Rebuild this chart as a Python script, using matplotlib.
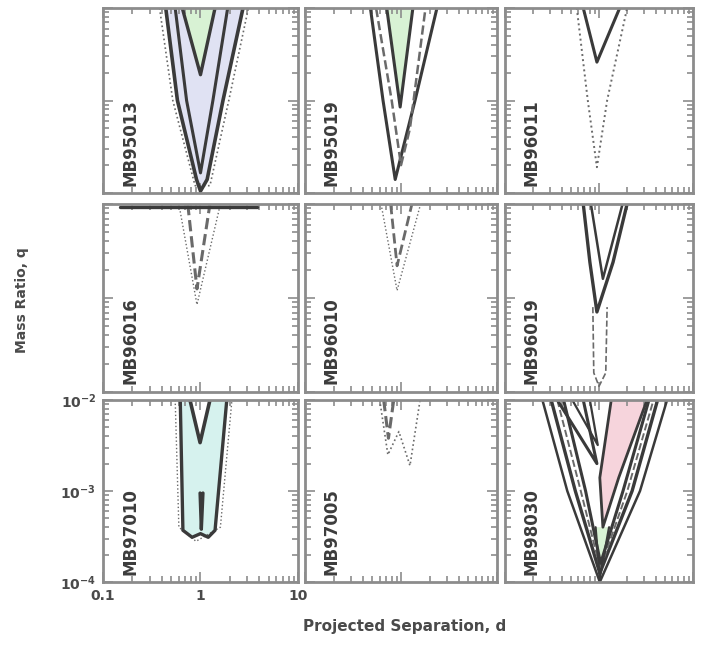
import matplotlib
matplotlib.use("Agg")
import matplotlib.pyplot as plt
from matplotlib.ticker import LogLocator, FixedLocator, FixedFormatter, NullFormatter

events = ["MB95013", "MB95019", "MB96011",
          "MB96016", "MB96010", "MB96019",
          "MB97010", "MB97005", "MB98030"]

x_ticks = [0.1, 1, 10]
x_tick_labels = ["0.1", "1", "10"]

# detection contours: separation d and mass ratio q, traced top-left -> tip -> top-right
mb95013_halo_d = [0.38, 0.52, 0.88, 1.25, 1.95, 3.10]
mb95013_halo_q = [1e-2, 1e-3, 1.2e-4, 1.2e-4, 1e-3, 1e-2]
mb95013_outer_d = [0.44, 0.58, 0.91, 1.00, 1.17, 1.70, 2.73]
mb95013_outer_q = [1e-2, 1e-3, 1.4e-4, 1.05e-4, 1.4e-4, 1e-3, 1e-2]
mb95013_inner_d = [0.55, 0.72, 1.00, 1.34, 1.90]
mb95013_inner_q = [1e-2, 1e-3, 1.65e-4, 1e-3, 1e-2]
mb95013_core_d = [0.65, 1.00, 1.41]
mb95013_core_q = [1e-2, 1.9e-3, 1e-2]

mb95019_outer_d = [0.48, 0.65, 0.87, 1.40, 2.37]
mb95019_outer_q = [1e-2, 1e-3, 1.4e-4, 1e-3, 1e-2]
mb95019_inner_d = [0.55, 0.80, 1.00, 1.24, 1.80]
mb95019_inner_q = [1e-2, 1e-3, 2.0e-4, 5e-4, 1e-2]
mb95019_core_d = [0.71, 0.98, 1.33]
mb95019_core_q = [1e-2, 8.5e-4, 1e-2]

mb96011_outer_d = [0.58, 0.76, 0.95, 1.22, 1.99]
mb96011_outer_q = [1e-2, 1e-3, 1.9e-4, 1e-3, 1e-2]
mb96011_inner_d = [0.68, 0.95, 1.66]
mb96011_inner_q = [1e-2, 2.6e-3, 1e-2]

mb96016_outer_d = [0.60, 0.92, 1.60]
mb96016_outer_q = [1e-2, 8.5e-4, 1e-2]
mb96016_inner_d = [0.74, 0.92, 1.25]
mb96016_inner_q = [1e-2, 1.25e-3, 1e-2]
mb96016_edge_d = [0.15, 3.8]
mb96016_edge_q = [9.3e-3, 9.3e-3]

mb96010_outer_d = [0.62, 0.91, 1.60]
mb96010_outer_q = [1e-2, 1.2e-3, 1e-2]
mb96010_inner_d = [0.78, 0.91, 1.30]
mb96010_inner_q = [1e-2, 2.2e-3, 1e-2]

mb96019_outer_d = [0.68, 0.80, 0.95, 1.41, 1.99]
mb96019_outer_q = [1e-2, 2.4e-3, 7.1e-4, 2.4e-3, 1e-2]
mb96019_tail_d = [0.86, 0.88, 1.00, 1.18, 1.22]
mb96019_tail_q = [8e-4, 1.6e-4, 1.15e-4, 1.6e-4, 8e-4]
mb96019_inner_d = [0.82, 1.10, 1.78]
mb96019_inner_q = [1e-2, 1.6e-3, 1e-2]

mb97010_halo_d = [0.55, 0.60, 0.90, 1.60, 2.10]
mb97010_halo_q = [1e-2, 4.0e-4, 2.8e-4, 4.0e-4, 1e-2]
mb97010_outer_d = [0.62, 0.66, 0.82, 1.00, 1.20, 1.41, 1.86]
mb97010_outer_q = [1e-2, 3.7e-4, 3.1e-4, 3.4e-4, 3.1e-4, 3.7e-4, 1e-2]
mb97010_inner_d = [0.78, 0.99, 1.25]
mb97010_inner_q = [1e-2, 3.4e-3, 1e-2]
mb97010_stem_d = [0.99, 1.02, 1.06]
mb97010_stem_q = [9.5e-4, 3.8e-4, 9.5e-4]

mb97005_outer_d = [0.60, 0.73, 0.95, 1.24, 1.58]
mb97005_outer_q = [1e-2, 2.5e-3, 4.5e-3, 1.9e-3, 1e-2]
mb97005_inner_d = [0.66, 0.74, 0.84]
mb97005_inner_q = [1e-2, 3.8e-3, 1e-2]

mb98030_outer_d = [0.25, 0.46, 1.02, 2.73, 5.30]
mb98030_outer_q = [1e-2, 1e-3, 1.0e-4, 1e-3, 1e-2]
mb98030_mid_d = [0.31, 0.56, 1.02, 2.25, 4.20]
mb98030_mid_q = [1e-2, 1e-3, 1.25e-4, 1e-3, 1e-2]
mb98030_second_d = [0.36, 0.64, 1.03, 2.00, 3.80]
mb98030_second_q = [1e-2, 1e-3, 1.4e-4, 1e-3, 1e-2]
mb98030_inner_d = [0.42, 0.72, 1.04, 1.80, 3.40]
mb98030_inner_q = [1e-2, 1e-3, 1.6e-4, 1e-3, 1e-2]
mb98030_pink_d = [1.35, 1.02, 1.10, 1.62, 3.24]
mb98030_pink_q = [1e-2, 1.4e-3, 4.0e-4, 1.4e-3, 1e-2]
mb98030_green_d = [0.92, 1.02, 1.28]
mb98030_green_q = [4.0e-4, 1.1e-4, 4.0e-4]
mb98030_left_d = [0.36, 0.95, 0.68]
mb98030_left_q = [1e-2, 2.0e-3, 1e-2]
mb98030_core_d = [0.52, 0.97, 0.80]
mb98030_core_q = [1e-2, 3.2e-3, 1e-2]

LAVENDER = "#e0e2f3"
GREEN = "#d8f2d4"
CYAN = "#d6f2ee"
PINK = "#f6d4dc"
DARK = "#3a3a3a"
GRAY = "#6a6a6a"

# (d, q, fill colour, line width, line style) per layer
layers = {
    "MB95013": [(mb95013_halo_d, mb95013_halo_q, None, 1.2, ":"),
                (mb95013_outer_d, mb95013_outer_q, LAVENDER, 2.6, "-"),
                (mb95013_inner_d, mb95013_inner_q, None, 2.2, "-"),
                (mb95013_core_d, mb95013_core_q, GREEN, 2.4, "-")],
    "MB95019": [(mb95019_outer_d, mb95019_outer_q, None, 2.2, "-"),
                (mb95019_inner_d, mb95019_inner_q, None, 1.8, "--"),
                (mb95019_core_d, mb95019_core_q, GREEN, 2.2, "-")],
    "MB96011": [(mb96011_outer_d, mb96011_outer_q, None, 1.4, ":"),
                (mb96011_inner_d, mb96011_inner_q, None, 2.2, "-")],
    "MB96016": [(mb96016_outer_d, mb96016_outer_q, None, 1.0, ":"),
                (mb96016_inner_d, mb96016_inner_q, None, 2.2, "--"),
                (mb96016_edge_d, mb96016_edge_q, None, 2.4, "-")],
    "MB96010": [(mb96010_outer_d, mb96010_outer_q, None, 1.0, ":"),
                (mb96010_inner_d, mb96010_inner_q, None, 2.0, "--")],
    "MB96019": [(mb96019_outer_d, mb96019_outer_q, None, 2.4, "-"),
                (mb96019_tail_d, mb96019_tail_q, None, 1.2, "--"),
                (mb96019_inner_d, mb96019_inner_q, None, 1.8, "-")],
    "MB97010": [(mb97010_halo_d, mb97010_halo_q, None, 1.0, ":"),
                (mb97010_outer_d, mb97010_outer_q, CYAN, 2.4, "-"),
                (mb97010_inner_d, mb97010_inner_q, "white", 2.6, "-"),
                (mb97010_stem_d, mb97010_stem_q, None, 2.4, "-")],
    "MB97005": [(mb97005_outer_d, mb97005_outer_q, None, 1.2, ":"),
                (mb97005_inner_d, mb97005_inner_q, None, 2.2, "--")],
    "MB98030": [(mb98030_outer_d, mb98030_outer_q, None, 1.8, "-"),
                (mb98030_mid_d, mb98030_mid_q, None, 2.4, "-"),
                (mb98030_second_d, mb98030_second_q, None, 1.4, "--"),
                (mb98030_inner_d, mb98030_inner_q, None, 2.2, "-"),
                (mb98030_pink_d, mb98030_pink_q, PINK, 2.0, "-"),
                (mb98030_green_d, mb98030_green_q, GREEN, 1.6, "-"),
                (mb98030_left_d, mb98030_left_q, None, 2.2, "-"),
                (mb98030_core_d, mb98030_core_q, None, 1.6, "-")],
}

lefts = [103, 305, 505]
widths = [195, 192, 188]
bottoms = [193, 392, 582]
heights = [185, 188, 182]
W, H = 711, 657

fig = plt.figure(figsize=(W / 100, H / 100), dpi=100)
fig.patch.set_facecolor("white")

for i, name in enumerate(events):
    r, c = divmod(i, 3)
    ax = fig.add_axes([lefts[c] / W, 1 - bottoms[r] / H, widths[c] / W, heights[r] / H])
    ax.set_xscale("log")
    ax.set_yscale("log")
    ax.set_xlim(0.1, 10)
    ax.set_ylim(1e-4, 1e-2)

    for d, q, face, lw, ls in layers[name]:
        if face is not None:
            ax.fill(d, q, color=face, lw=0, zorder=1)
        ax.plot(d, q, color=DARK if ls == "-" else GRAY, lw=lw, ls=ls,
                solid_capstyle="round", zorder=2)

    ax.text(0.14, 0.04, name, transform=ax.transAxes, rotation=90,
            ha="center", va="bottom", fontsize=12, fontweight="bold", color="#3c3c3c")

    for s in ax.spines.values():
        s.set_color("#8c8c8c")
        s.set_linewidth(2.0)
    ax.xaxis.set_major_locator(FixedLocator(x_ticks))
    ax.xaxis.set_minor_locator(LogLocator(base=10, subs=range(2, 10)))
    ax.yaxis.set_minor_locator(LogLocator(base=10, subs=range(2, 10)))
    ax.tick_params(which="both", direction="in", top=True, right=True,
                   color="#8c8c8c", width=1.2)
    ax.tick_params(which="major", length=7)
    ax.tick_params(which="minor", length=4)
    ax.xaxis.set_minor_formatter(NullFormatter())
    ax.yaxis.set_minor_formatter(NullFormatter())

    if r == 2 and c == 0:
        ax.xaxis.set_major_formatter(FixedFormatter(x_tick_labels))
        ax.tick_params(which="major", labelsize=10, labelcolor="#4a4a4a", pad=5)
        for lab in ax.get_xticklabels() + ax.get_yticklabels():
            lab.set_fontweight("bold")
    else:
        ax.set_xticklabels([])
        ax.set_yticklabels([])

fig.text(22 / W, 1 - 300 / H, "Mass Ratio, q", rotation=90, ha="center", va="center",
         fontsize=10, fontweight="bold", color="#4a4a4a")
fig.text(405 / W, 1 - 627 / H, "Projected Separation, d", ha="center", va="center",
         fontsize=11, fontweight="bold", color="#4a4a4a")

fig.savefig("out.png", dpi=100, facecolor="white")
